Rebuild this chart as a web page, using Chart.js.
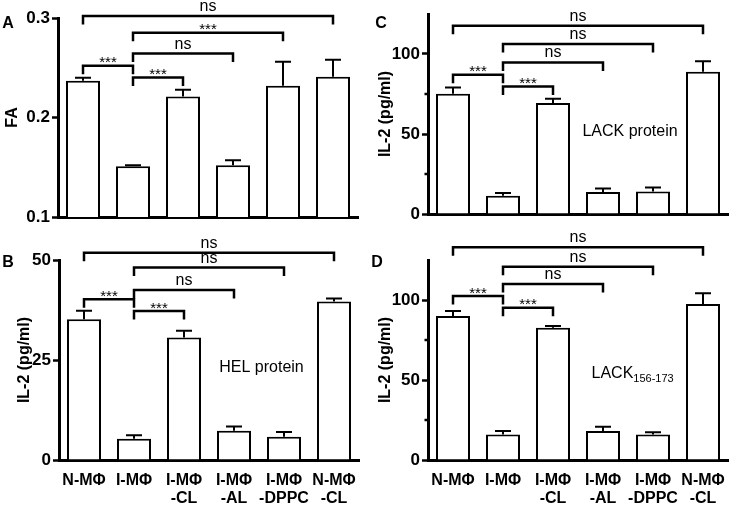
<!DOCTYPE html>
<html><head><meta charset="utf-8">
<script src="https://cdn.jsdelivr.net/npm/chart.js@4/dist/chart.umd.min.js"></script>
<style>
html,body{margin:0;padding:0;background:#fff;}
#wrap{position:relative;width:731px;height:505px;overflow:hidden;background:#fff;}
canvas{position:absolute;}
</style></head><body>
<div id="wrap">
<canvas id="cA" width="365" height="240" style="left:0px;top:0px"></canvas>
<canvas id="cC" width="366" height="240" style="left:365px;top:0px"></canvas>
<canvas id="cB" width="365" height="280" style="left:0px;top:225px"></canvas>
<canvas id="cD" width="366" height="280" style="left:365px;top:225px"></canvas>
</div>
<script>
// ---- data ----
const categories = [["N-MΦ"], ["I-MΦ"], ["I-MΦ", "-CL"], ["I-MΦ", "-AL"], ["I-MΦ", "-DPPC"], ["N-MΦ", "-CL"]];

const faMean = [0.237, 0.151, 0.221, 0.152, 0.232, 0.241];
const faSem  = [0.003, 0.001, 0.007, 0.005, 0.024, 0.017];

const helMean = [35.2, 5.3, 30.6, 7.3, 5.8, 39.6];
const helSem  = [2.1, 0.9, 1.7, 1.1, 1.2, 0.8];

const lackMean = [75.2, 11.4, 69.4, 13.8, 14.1, 88.9];
const lackSem  = [3.9, 1.7, 2.7, 2.2, 2.5, 6.5];

const pepMean = [90.0, 16.0, 82.7, 18.1, 16.0, 97.5];
const pepSem  = [3.1, 2.1, 1.0, 2.7, 1.3, 6.7];

const faTicks = [0.1, 0.2, 0.3];
const helTicks = [0, 25, 50];
const il2Ticks = [0, 50, 100];
const il2MinorTicks = [25, 75];

// comparison brackets: [from category, to category, level (axis units), label]
const faBrackets   = [[0, 5, 0.302, "ns"], [1, 4, 0.2853, "***"], [1, 3, 0.2643, "ns"], [0, 1, 0.252, "***"], [1, 2, 0.2403, "***"]];
const helBrackets  = [[0, 5, 51.8, "ns"], [1, 4, 48.1, "ns"], [1, 3, 42.5, "ns"], [0, 1, 40.2, "***"], [1, 2, 37.25, "***"]];
const lackBrackets = [[0, 5, 117.7, "ns"], [1, 4, 106.25, "ns"], [1, 3, 94.75, "ns"], [0, 1, 87, "***"], [1, 2, 79.75, "***"]];
const pepBrackets  = [[0, 5, 133, "ns"], [1, 4, 120.8, "ns"], [1, 3, 110, "ns"], [0, 1, 102.5, "***"], [1, 2, 95.2, "***"]];

// ---- drawing ----
const FAM = '"Liberation Sans", Arial, Helvetica, sans-serif';
const BOLD = {family: FAM, size: 16, weight: 'bold'};
const TICKFONT = {family: FAM, size: 17, weight: 'bold'};

function annotPlugin(cfg) {
  return {
    id: 'annot_' + cfg.id,
    afterDraw(chart) {
      const ctx = chart.ctx;
      const xs = chart.scales.x, ys = chart.scales.y;
      const meta = chart.getDatasetMeta(0);
      const ca = chart.chartArea;
      ctx.save();
      ctx.strokeStyle = '#000';
      ctx.fillStyle = '#000';
      ctx.lineCap = 'butt';
      // error bars (upper)
      ctx.lineWidth = 2;
      meta.data.forEach((bar, i) => {
        const x = bar.x;
        const y0 = ys.getPixelForValue(cfg.mean[i]);
        const y1 = ys.getPixelForValue(cfg.mean[i] + cfg.sem[i]);
        ctx.beginPath();
        ctx.moveTo(x, y0); ctx.lineTo(x, y1);
        ctx.moveTo(x - 8, y1); ctx.lineTo(x + 8, y1);
        ctx.stroke();
      });
      // minor ticks
      ctx.lineWidth = 2.5;
      (cfg.minor || []).forEach(v => {
        const y = ys.getPixelForValue(v);
        ctx.beginPath(); ctx.moveTo(ca.left - 3.5, y); ctx.lineTo(ca.left, y); ctx.stroke();
      });
      // brackets
      ctx.lineWidth = 2.5;
      ctx.textAlign = 'center';
      ctx.textBaseline = 'alphabetic';
      cfg.brackets.forEach(([a, b, lvl, lab]) => {
        const x1 = xs.getPixelForValue(a), x2 = xs.getPixelForValue(b);
        const y = ys.getPixelForValue(lvl);
        ctx.beginPath();
        ctx.moveTo(x1, y + 8.5); ctx.lineTo(x1, y); ctx.lineTo(x2, y); ctx.lineTo(x2, y + 8.5);
        ctx.stroke();
        if (lab === 'ns') {
          ctx.font = '16px ' + FAM;
          ctx.fillText(lab, (x1 + x2) / 2, y - 5);
        } else {
          ctx.font = '15px ' + FAM;
          ctx.fillText(lab, (x1 + x2) / 2, y + 1.5);
        }
      });
      // panel letter
      ctx.font = 'bold 16px ' + FAM;
      ctx.textAlign = 'center';
      ctx.textBaseline = 'middle';
      ctx.fillText(cfg.letter, cfg.letterPos[0], cfg.letterPos[1]);
      // inner text
      if (cfg.note) {
        const nx = xs.getPixelForValue(cfg.note.at[0]);
        const ny = ys.getPixelForValue(cfg.note.at[1]);
        ctx.font = '16px ' + FAM;
        if (cfg.note.sub) {
          ctx.textAlign = 'left';
          ctx.textBaseline = 'alphabetic';
          ctx.fillText(cfg.note.text, nx, ny + 6);
          const w = ctx.measureText(cfg.note.text).width;
          ctx.font = '11px ' + FAM;
          ctx.fillText(cfg.note.sub, nx + w, ny + 10);
        } else {
          ctx.textAlign = 'center';
          ctx.textBaseline = 'middle';
          ctx.fillText(cfg.note.text, nx, ny);
        }
      }
      ctx.restore();
    }
  };
}

function makeChart(cfg) {
  return new Chart(document.getElementById(cfg.id), {
    type: 'bar',
    data: {
      labels: categories,
      datasets: [{
        data: cfg.mean,
        backgroundColor: '#ffffff',
        borderColor: '#000000',
        borderWidth: 2,
        borderSkipped: 'start',
        barPercentage: 0.68,
        categoryPercentage: 1
      }]
    },
    options: {
      responsive: false,
      animation: false,
      devicePixelRatio: 1,
      layout: {padding: {top: cfg.padTop, right: cfg.padRight, left: 0, bottom: 0}},
      plugins: {legend: {display: false}, tooltip: {enabled: false}},
      scales: {
        x: {
          grid: {display: false, drawTicks: false},
          border: {display: true, color: '#000', width: 3},
          ticks: {display: cfg.showX, color: '#000', font: {family: FAM, size: 16, weight: 'bold', lineHeight: 1.12}, padding: 12, maxRotation: 0, autoSkip: false},
          afterFit: s => { s.height = cfg.xH; s.paddingLeft = 0; s.paddingRight = 0; }
        },
        y: {
          min: cfg.min, max: cfg.max,
          afterBuildTicks: s => { s.ticks = cfg.ticks.map(v => ({value: v})); },
          ticks: {color: '#000', font: TICKFONT, padding: 2, callback: cfg.fmt},
          grid: {drawOnChartArea: false, drawTicks: true, tickLength: 6, tickWidth: 2.5, tickColor: '#000'},
          border: {display: true, color: '#000', width: 3},
          title: {display: true, text: cfg.title, color: '#000', font: BOLD, padding: {top: cfg.titlePad, bottom: 0}},
          afterFit: s => { s.width = cfg.yW; s.paddingTop = 0; s.paddingBottom = 0; }
        }
      }
    },
    plugins: [annotPlugin(cfg)]
  });
}

makeChart({id: 'cA', mean: faMean, sem: faSem, brackets: faBrackets, ticks: faTicks, min: 0.1, max: 0.3,
  fmt: v => Number(v).toFixed(1), title: 'FA', titlePad: 2.5, yW: 58, xH: 23, padTop: 18, padRight: 7,
  showX: false, letter: 'A', letterPos: [8, 24]});

makeChart({id: 'cB', mean: helMean, sem: helSem, brackets: helBrackets, ticks: helTicks, min: 0, max: 50,
  fmt: v => String(v), title: 'IL-2 (pg/ml)', titlePad: 15, yW: 59, xH: 45, padTop: 35, padRight: 6,
  showX: true, letter: 'B', letterPos: [8, 38], note: {text: 'HEL protein', at: [3.55, 23]}});

makeChart({id: 'cC', mean: lackMean, sem: lackSem, brackets: lackBrackets, ticks: il2Ticks, minor: il2MinorTicks, min: 0, max: 125,
  fmt: v => String(v), title: 'IL-2 (pg/ml)', titlePad: 11, yW: 63, xH: 26, padTop: 14, padRight: 3,
  showX: false, letter: 'C', letterPos: [16, 24], note: {text: 'LACK protein', at: [3.54, 51.25]}});

makeChart({id: 'cD', mean: pepMean, sem: pepSem, brackets: pepBrackets, ticks: il2Ticks, minor: il2MinorTicks, min: 0, max: 125,
  fmt: v => String(v), title: 'IL-2 (pg/ml)', titlePad: 11, yW: 63, xH: 45, padTop: 35, padRight: 3,
  showX: true, letter: 'D', letterPos: [12, 38], note: {text: 'LACK', sub: '156-173', at: [2.77, 55.3]}});
</script>
</body></html>
